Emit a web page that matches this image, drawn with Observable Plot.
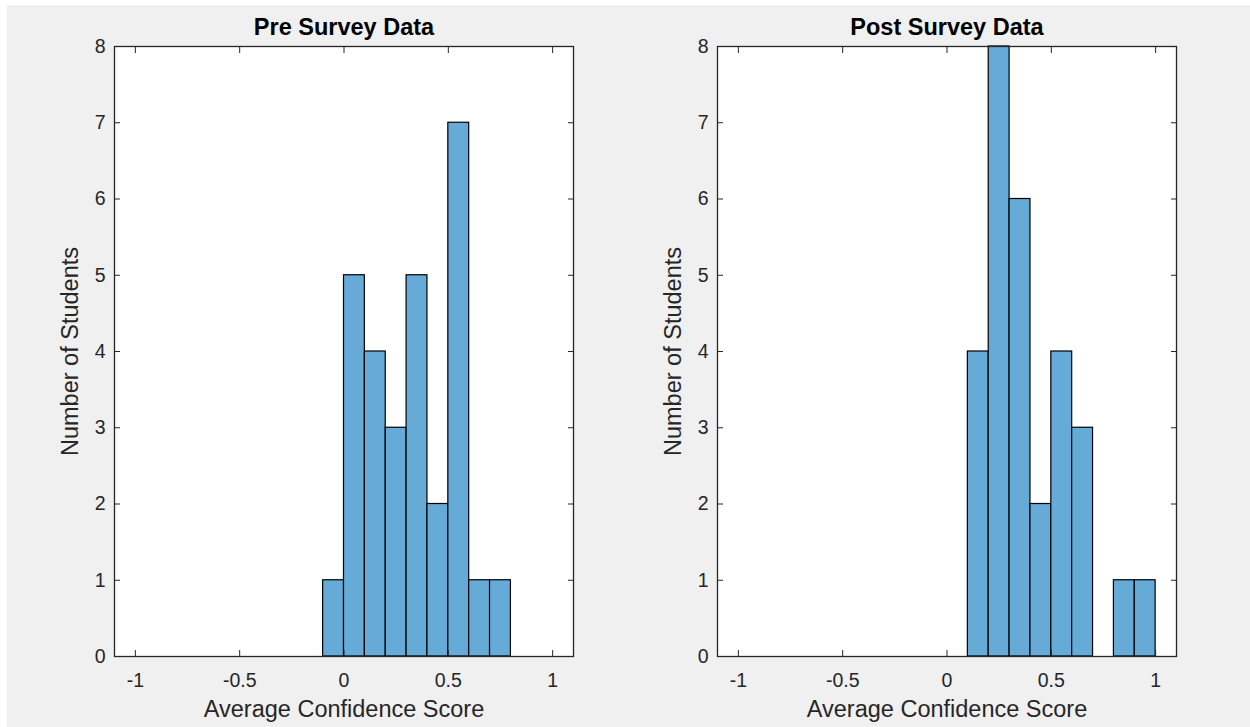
<!DOCTYPE html>
<html>
<head>
<meta charset="utf-8">
<script src="https://cdn.jsdelivr.net/npm/d3@7"></script>
<script src="https://cdn.jsdelivr.net/npm/@observablehq/plot@0.6"></script>
<style>
  html, body { margin: 0; padding: 0; background: #ffffff; }
  #figure { position: relative; width: 1250px; height: 727px; overflow: hidden; }
  #figure .bg { position: absolute; left: 7px; top: 5px; right: 0; bottom: 0; background: #f0f0f0; }
  #figure .panel { position: absolute; top: 0; }
</style>
</head>
<body>
<div id="figure"><div class="bg"></div></div>
<script>
// Histogram bin edges and counts for each survey
const preEdges = [-0.1, 0, 0.1, 0.2, 0.3, 0.4, 0.5, 0.6, 0.7, 0.8];
const preCounts = [1, 5, 4, 3, 5, 2, 7, 1, 1];
const postEdges = [0.1, 0.2, 0.3, 0.4, 0.5, 0.6, 0.7, 0.8, 0.9, 1.0];
const postCounts = [4, 8, 6, 2, 4, 3, 0, 1, 1];

// Axis ticks and labels
const xTicks = [-1, -0.5, 0, 0.5, 1];
const yTicks = [0, 1, 2, 3, 4, 5, 6, 7, 8];
const xLabel = "Average Confidence Score";
const yLabel = "Number of Students";
const titles = ["Pre Survey Data", "Post Survey Data"];

const FONT = "'Liberation Sans', Arial, Helvetica, sans-serif";
const INK = "#262626";
const BAR = "#66aad7";

function panel(title, edges, counts, marginLeft, marginRight) {
  const bins = counts
    .map((count, i) => ({x1: edges[i], x2: edges[i + 1], count}))
    .filter((d) => d.count > 0);
  return Plot.plot({
    width: 625,
    height: 727,
    marginLeft,
    marginRight,
    marginTop: 46,
    marginBottom: 71,
    style: {background: "transparent", fontFamily: FONT, fontSize: "19px", color: INK, overflow: "visible"},
    x: {domain: [-1.1, 1.1]},
    y: {domain: [0, 8]},
    marks: [
      Plot.frame({fill: "white"}),
      Plot.rectY(bins, {x1: "x1", x2: "x2", y: "count", fill: BAR, stroke: "#000", strokeWidth: 1.2}),
      // inward ticks on all four sides, labels on bottom and left
      Plot.axisX(xTicks, {anchor: "bottom", tickSize: -6, tickPadding: 23, tickFormat: (d) => String(d), label: null, fontSize: 19.5}),
      Plot.axisX(xTicks, {anchor: "top", tickSize: -6, text: null, label: null}),
      Plot.axisY(yTicks, {anchor: "left", tickSize: -6, tickPadding: 15, tickFormat: (d) => String(d), label: null, fontSize: 19.5}),
      Plot.axisY(yTicks, {anchor: "right", tickSize: -6, text: null, label: null}),
      Plot.frame({stroke: INK, strokeWidth: 1.3}),
      Plot.text([title], {frameAnchor: "top", dy: -12, lineAnchor: "bottom", fontSize: 23.5, fontWeight: "bold", fill: "#000"}),
      Plot.text([xLabel], {frameAnchor: "bottom", dy: 60, lineAnchor: "bottom", fontSize: 23.5, fill: INK}),
      Plot.text([yLabel], {frameAnchor: "left", dx: -37, rotate: -90, textAnchor: "middle", lineAnchor: "bottom", fontSize: 23.5, fill: INK})
    ]
  });
}

const fig = document.getElementById("figure");
const left = panel(titles[0], preEdges, preCounts, 114, 52);
left.classList.add("panel");
left.style.left = "0px";
fig.appendChild(left);
const right = panel(titles[1], postEdges, postCounts, 92, 74);
right.classList.add("panel");
right.style.left = "625px";
fig.appendChild(right);
</script>
</body>
</html>
